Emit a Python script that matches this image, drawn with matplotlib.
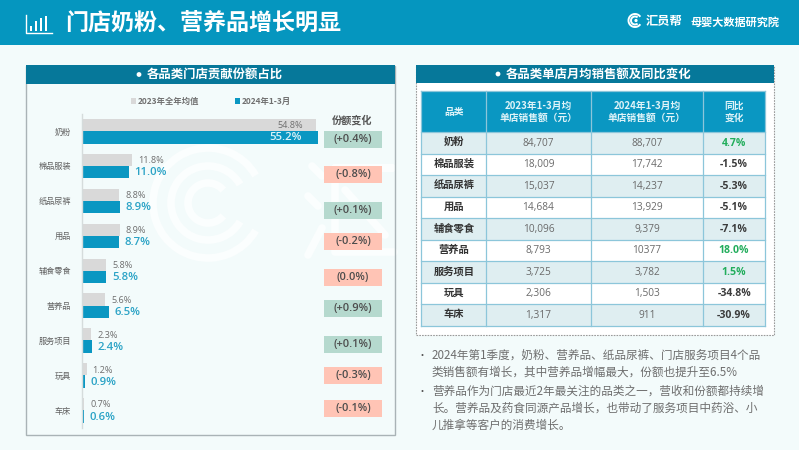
import matplotlib
matplotlib.use("Agg")
import matplotlib.pyplot as plt
from matplotlib.patches import Rectangle, Arc, Circle

# ---------- data ----------
categories = ["奶粉", "棉品服装", "纸品尿裤", "用品", "辅食零食", "营养品", "服务项目", "玩具", "车床"]
share_2023 = [54.8, 11.8, 8.8, 8.9, 5.8, 5.6, 2.3, 1.2, 0.7]
share_2024 = [55.2, 11.0, 8.9, 8.7, 5.8, 6.5, 2.4, 0.9, 0.6]
share_change = ["(+0.4%)", "(-0.8%)", "(+0.1%)", "(-0.2%)", "(0.0%)", "(+0.9%)", "(+0.1%)", "(-0.3%)", "(-0.1%)"]
sales_2023 = ["84,707", "18,009", "15,037", "14,684", "10,096", "8,793", "3,725", "2,306", "1,317"]
sales_2024 = ["88,707", "17,742", "14,237", "13,929", "9,379", "10377", "3,782", "1,503", "911"]
yoy = ["4.7%", "-1.5%", "-5.3%", "-5.1%", "-7.1%", "18.0%", "1.5%", "-34.8%", "-30.9%"]
table_head = ["品类", "2023年1-3月均\n单店销售额（元）", "2024年1-3月均\n单店销售额（元）", "同比\n变化"]
legend_names = ["2023年全年均值", "2024年1-3月"]
bullets = [
    ["2024年第1季度，奶粉、营养品、纸品尿裤、门店服务项目4个品", "类销售额有增长，其中营养品增幅最大，份额也提升至6.5%"],
    ["营养品作为门店最近2年最关注的品类之一，营收和份额都持续增", "长。营养品及药食同源产品增长，也带动了服务项目中药浴、小", "儿推拿等客户的消费增长。"],
]

# ---------- style ----------
FONT = ["Noto Sans CJK SC", "DejaVu Sans"]
NUM = ["Open Sans", "Noto Sans CJK SC"]
plt.rcParams["font.family"] = FONT
BG, BANNER, BAR_HEAD = "#F3FBFB", "#0596BF", "#06789A"
GRAY, BLUE, BLUE_TXT = "#D9D9D9", "#0A97C2", "#2BA3C6"
DARK, MID = "#404040", "#6A6A6A"

fig = plt.figure(figsize=(7.99, 4.5), dpi=100, facecolor=BG)
W, H = 799, 450
pg = fig.add_axes([0, 0, 1, 1])
pg.set_xlim(0, W); pg.set_ylim(H, 0); pg.axis("off")


def rect(x0, y0, x1, y1, fc, ec="none", lw=0, ls="-", z=1):
    pg.add_patch(Rectangle((x0, y0), x1 - x0, y1 - y0, fc=fc, ec=ec, lw=lw, ls=ls, zorder=z))


def txt(x, y, s, size, color, ha="center", weight="normal", family=FONT, z=6, ls=1.25):
    pg.text(x, y, s, fontsize=size, color=color, ha=ha, va="center", fontweight=weight,
            family=family, zorder=z, linespacing=ls)


# banner
rect(0, 0, W, 45, BANNER)
txt(65, 23.5, "门店奶粉、营养品增长明显", 16.6, "white", ha="left", weight="bold")
pg.plot([26, 26, 52], [15, 33, 33], color="white", lw=1.0, zorder=5)
for bx, bt in zip([31, 36, 41, 46], [26, 21, 18, 16]):
    rect(bx - 1.2, bt, bx + 1.2, 31, "white", z=5)

# logo
for r, a0, a1 in [(6.5, 35, 325), (4, 50, 310)]:
    pg.add_patch(Arc((635, 20.5), 2 * r, 2 * r, theta1=a0, theta2=a1, color="white", lw=1.4, zorder=5))
pg.add_patch(Circle((636, 20.5), 1.6, fc="white", ec="none", zorder=5))
txt(646, 21, "汇员帮", 8.8, "white", ha="left", weight="bold")
txt(690, 22, "母婴大数据研究院", 8, "white", ha="left", weight="bold")

# watermark (faint swirl and glyph-like strokes)
WM = "#FBFEFE"
for r, a0, a1 in [(20, 40, 320), (37, 30, 330), (55, 30, 330)]:
    pg.add_patch(Arc((208, 203), 2 * r, 2 * r, theta1=a0, theta2=a1, color=WM, lw=5.5, zorder=1.5))
for xs, ys in [([312, 322], [166, 176]), ([308, 318], [196, 206]), ([322, 308], [228, 255]),
               ([335, 392, 335, 335, 394], [168, 168, 168, 252, 252]), ([345, 385], [190, 235])]:
    pg.plot(xs, ys, color=WM, lw=5.5, solid_capstyle="round", zorder=1.5)

# left panel
rect(25.5, 65.5, 394.5, 435, "none", ec="#A9B3B6", lw=1, z=2)
rect(25.5, 65, 394.5, 84, BAR_HEAD, z=3)
pg.add_patch(Circle((139, 74.5), 2.4, fc="white", ec="none", zorder=5))
txt(147, 74.5, "各品类门店贡献份额占比", 8.9, "white", ha="left", weight="bold")

# legend
rect(131, 98, 136, 104, GRAY, z=3)
txt(138, 101, legend_names[0], 6.0, "#707070", ha="left", weight="bold")
rect(235, 98, 240, 104, BLUE, z=3)
txt(242, 101, legend_names[1], 6.0, "#707070", ha="left", weight="bold")
txt(352, 120, "份额变化", 7.3, "#555555", weight="bold")

# share change boxes
box_top = [130.5, 166, 202, 232.5, 268.5, 300, 335.5, 367, 399.5]
for i, s in enumerate(share_change):
    up = s.startswith("(+")
    rect(324, box_top[i], 382, box_top[i] + 17.2, "#B5D9CE" if up else "#FFC4B5", z=3)
    txt(353, box_top[i] + 8.6, s, 7.9, "#4D4D4D", weight="semibold", family=NUM)

# bars: real axes, 4.285 px per percentage point, 34.9 px per category
ax_l, ax_r, ax_t, ax_b = 81.5, 320, 114, 428
ax = fig.add_axes([ax_l / W, 1 - ax_b / H, (ax_r - ax_l) / W, (ax_b - ax_t) / H])
ax.patch.set_alpha(0)
ax.set_xlim(0, (ax_r - ax_l) / 4.285)
ax.set_ylim((ax_b - 131) / 34.9, (ax_t - 131) / 34.9)
pos = list(range(len(categories)))
ax.barh([p - 0.345 for p in pos], share_2023, height=0.345, align="edge", color=GRAY, zorder=2)
ax.barh(pos, share_2024, height=0.36, align="edge", color=BLUE, zorder=2)
ax.set_yticks(pos)
ax.set_yticklabels(categories, fontsize=5.9, color="#606060")
ax.tick_params(axis="y", length=0, pad=7.5)
ax.set_xticks([])
for k, sp in ax.spines.items():
    sp.set_visible(k == "left")
ax.spines["left"].set_color("#D5DCDC"); ax.spines["left"].set_linewidth(1)
for i in pos:
    inside = share_2023[i] > 30
    ax.annotate(f"{share_2023[i]:.1f}%", (share_2023[i], i - 0.15), xytext=(-9.4 if inside else 4.2, 0),
                textcoords="offset points", va="center", ha="right" if inside else "left",
                fontsize=6.6, color="#6E6E6E", family=NUM, zorder=4)
    ax.annotate(f"{share_2024[i]:.1f}%", (share_2024[i], i + 0.2), xytext=(-12 if inside else 4, 0),
                textcoords="offset points", va="center", ha="right" if inside else "left",
                fontsize=8.2, fontweight="semibold", family=NUM,
                color="#DDF3F8" if inside else BLUE_TXT, zorder=4)

# right panel
rect(415.5, 65.5, 773.5, 335, "white", ec="#9A9A9A", lw=0.8, ls=(0, (1.5, 1)), z=2)
rect(415.5, 65, 773.5, 83, BAR_HEAD, z=3)
pg.add_patch(Circle((498, 74), 2.4, fc="white", ec="none", zorder=5))
txt(505.5, 74, "各品类单店月均销售额及同比变化", 8.9, "white", ha="left", weight="bold")

# table
cx = [421.3, 486.3, 590.7, 703.3, 765]
head_t, head_b, row_h = 90.7, 132, 21.5
GRID = "#8CC6DA"
rect(cx[0], head_t, cx[-1], head_b, BLUE, z=3)
for j, s in enumerate(table_head):
    txt((cx[j] + cx[j + 1]) / 2, (head_t + head_b) / 2 + 0.5, s, 7.0, "#DFF3F8", weight="bold", ls=1.3)
for i in range(len(categories)):
    t = head_b + i * row_h
    rect(cx[0], t, cx[-1], t + row_h, "#DFEEF1" if i % 2 == 0 else "white", z=3)
    ym = t + row_h / 2
    txt((cx[0] + cx[1]) / 2, ym - 0.5, categories[i], 7.4, "#333333", weight="bold")
    txt((cx[1] + cx[2]) / 2, ym + 0.5, sales_2023[i], 7.3, MID, family=NUM)
    txt((cx[2] + cx[3]) / 2, ym + 0.5, sales_2024[i], 7.3, MID, family=NUM)
    col = "#22AD5C" if not yoy[i].startswith("-") else "#3C3C3C"
    txt((cx[3] + cx[4]) / 2, ym + 0.5, yoy[i], 7.6, col, weight="bold", family=NUM)
for k in range(len(categories) + 1):
    y = head_b + k * row_h
    pg.plot([cx[0], cx[-1]], [y, y], color=GRID, lw=0.9, zorder=4)
pg.plot([cx[0], cx[-1]], [head_t, head_t], color=GRID, lw=0.9, zorder=4)
for j, x in enumerate(cx):
    pg.plot([x, x], [head_t, head_b + 9 * row_h], color=GRID, lw=0.9, zorder=4)

# bullets
y_lines = [[355, 372], [391, 408, 425]]
for para, ys in zip(bullets, y_lines):
    pg.add_patch(Circle((422.5, ys[0]), 1.0, fc="#555555", ec="none", zorder=5))
    for s, y in zip(para, ys):
        txt(432, y, s, 8.35, "#6E6E6E", ha="left")

fig.savefig("out.png", dpi=100, facecolor=BG)
